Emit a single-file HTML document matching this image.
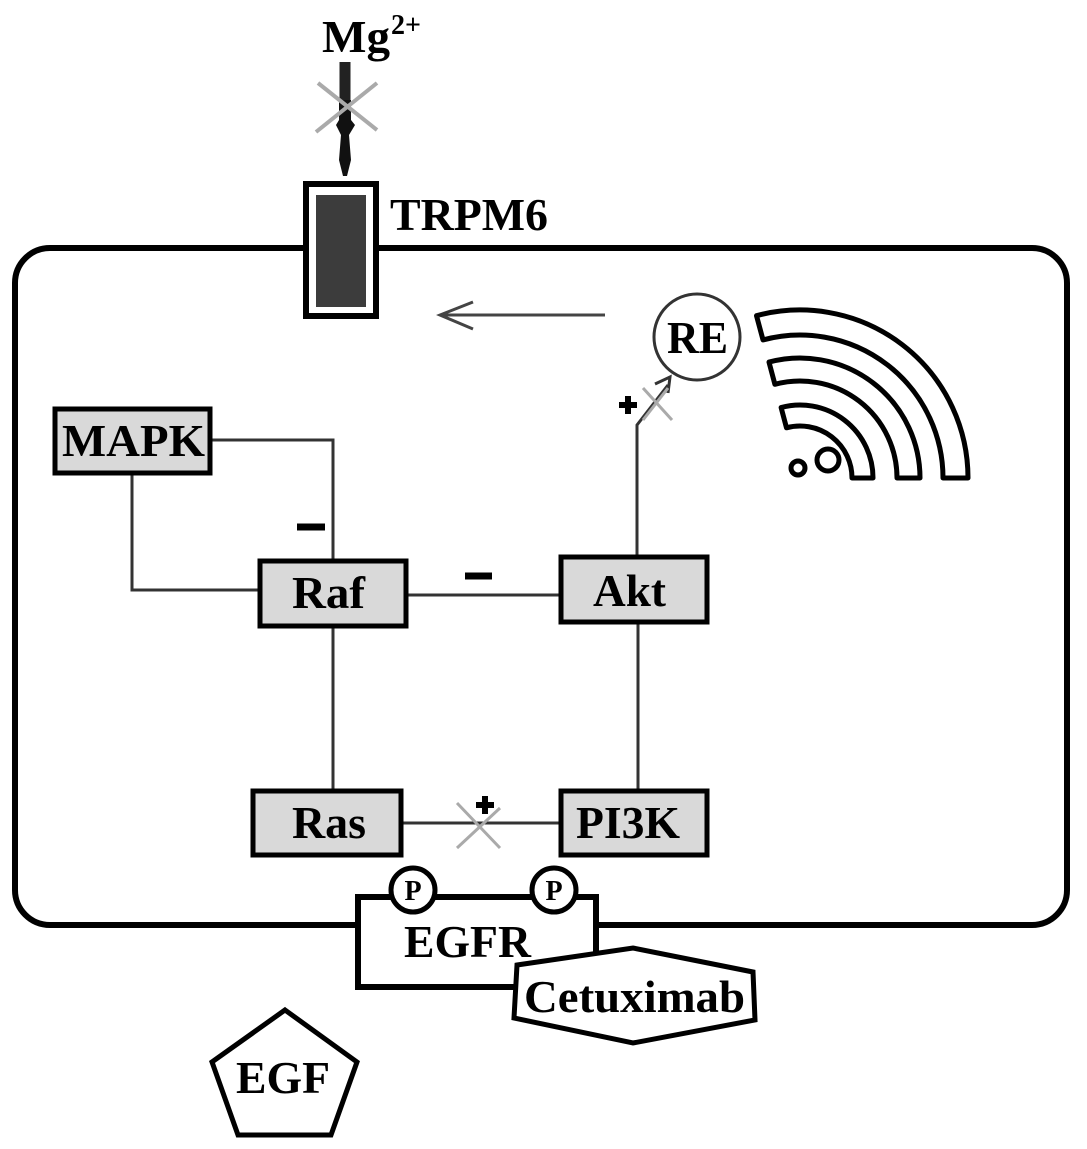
<!DOCTYPE html>
<html><head><style>
html,body{margin:0;padding:0;background:#fff;}
svg{display:block;}
text{font-family:"Liberation Serif",serif;font-weight:bold;fill:#000;}
</style></head><body>
<svg width="1087" height="1149" viewBox="0 0 1087 1149" xmlns="http://www.w3.org/2000/svg">
<!-- cell -->
<rect x="15" y="248" width="1052" height="677" rx="35" fill="none" stroke="#000" stroke-width="6"/>
<!-- Mg -->
<text x="322" y="52" font-size="46" textLength="68" lengthAdjust="spacingAndGlyphs">Mg</text>
<text x="391" y="34" font-size="28">2+</text>
<line x1="345" y1="62" x2="345" y2="100" stroke="#222" stroke-width="11"/>
<path d="M339 100 L351 100 L351 120 L355 125 L349 135 L351 160 L347 176 L343 176 L339 160 L341 135 L336 125 L339 120 Z" fill="#111"/>
<line x1="318" y1="83" x2="377" y2="130" stroke="#aaa" stroke-width="4"/>
<line x1="377" y1="83" x2="316" y2="132" stroke="#aaa" stroke-width="4"/>
<!-- TRPM6 -->
<rect x="306" y="184" width="70" height="132" fill="#fff" stroke="#000" stroke-width="6"/>
<rect x="316" y="195" width="50" height="112" fill="#3c3c3c"/>
<text x="390" y="230" font-size="46" textLength="158" lengthAdjust="spacingAndGlyphs">TRPM6</text>
<!-- arrow -->
<line x1="605" y1="315" x2="440" y2="315" stroke="#444" stroke-width="3"/>
<polyline points="473,302 440,315 473,329" fill="none" stroke="#444" stroke-width="3"/>
<!-- RE -->
<circle cx="697" cy="337" r="43" fill="#fff" stroke="#333" stroke-width="3"/>
<text x="667" y="353" font-size="46" textLength="61" lengthAdjust="spacingAndGlyphs">RE</text>
<!-- wifi -->
<g fill="#fff" stroke="#000" stroke-width="5" stroke-linejoin="round">
<path d="M756.5,315.7 A168 168 0 0 1 968,478 L943,478 A143 143 0 0 0 763,339.9 Z"/>
<path d="M769,362.1 A120 120 0 0 1 920,478 L897,478 A97 97 0 0 0 774.9,384.3 Z"/>
<path d="M781.1,407.5 A73 73 0 0 1 873,478 L852,478 A52 52 0 0 0 786.5,427.8 Z"/>
<circle cx="798" cy="468" r="7"/>
<circle cx="828" cy="460" r="11"/>
</g>
<!-- connectors -->
<g stroke="#333" stroke-width="3" fill="none">
<polyline points="211,440 333,440 333,560"/>
<polyline points="132,474 132,590 258,590"/>
<line x1="407" y1="595" x2="559" y2="595"/>
<line x1="333" y1="628" x2="333" y2="790"/>
<line x1="638" y1="623" x2="638" y2="790"/>
<line x1="402" y1="823" x2="559" y2="823"/>
<polyline points="637,556 637,425 668,385"/>
<polyline points="655,384 670,377 668,393" stroke-width="3"/>
</g>
<line x1="297" y1="527" x2="325" y2="527" stroke="#000" stroke-width="7"/>
<line x1="465" y1="576" x2="492" y2="576" stroke="#000" stroke-width="7"/>
<!-- X marks -->
<g stroke="#aaa" stroke-width="3">
<line x1="457" y1="803" x2="500" y2="848"/>
<line x1="500" y1="808" x2="457" y2="848"/>
<line x1="643" y1="388" x2="672" y2="420"/>
<line x1="668" y1="388" x2="643" y2="420"/>
</g>
<g stroke="#000" stroke-width="6">
<line x1="476" y1="805" x2="494" y2="805"/><line x1="485" y1="796" x2="485" y2="814"/>
<line x1="619" y1="405" x2="637" y2="405"/><line x1="628" y1="396" x2="628" y2="414"/>
</g>
<!-- boxes -->
<g fill="#d9d9d9" stroke="#000" stroke-width="5">
<rect x="55" y="409" width="155" height="64"/>
<rect x="260" y="561" width="146" height="65"/>
<rect x="561" y="557" width="146" height="65"/>
<rect x="253" y="791" width="148" height="64"/>
<rect x="561" y="791" width="146" height="64"/>
</g>
<text x="62" y="456" font-size="46" textLength="143" lengthAdjust="spacingAndGlyphs">MAPK</text>
<text x="292" y="608" font-size="46" textLength="73" lengthAdjust="spacingAndGlyphs">Raf</text>
<text x="593" y="606" font-size="46" textLength="73" lengthAdjust="spacingAndGlyphs">Akt</text>
<text x="292" y="838" font-size="46" textLength="74" lengthAdjust="spacingAndGlyphs">Ras</text>
<text x="576" y="838" font-size="46" textLength="104" lengthAdjust="spacingAndGlyphs">PI3K</text>
<!-- EGFR -->
<rect x="358" y="897" width="238" height="90" fill="#fff" stroke="#000" stroke-width="6"/>
<circle cx="413" cy="890" r="22" fill="#fff" stroke="#000" stroke-width="5"/>
<circle cx="554" cy="890" r="22" fill="#fff" stroke="#000" stroke-width="5"/>
<text x="413" y="900" font-size="28" text-anchor="middle">P</text>
<text x="554" y="900" font-size="28" text-anchor="middle">P</text>
<text x="404" y="957" font-size="46" textLength="127" lengthAdjust="spacingAndGlyphs">EGFR</text>
<polygon points="517,965 633,948 753,972 755,1020 633,1043 514,1018" fill="#fff" stroke="#000" stroke-width="5"/>
<text x="524" y="1012" font-size="46" textLength="221" lengthAdjust="spacingAndGlyphs">Cetuximab</text>
<!-- EGF -->
<polygon points="285,1010 357,1062 331,1135 238,1135 212,1062" fill="#fff" stroke="#000" stroke-width="5"/>
<text x="236" y="1093" font-size="46" textLength="94" lengthAdjust="spacingAndGlyphs">EGF</text>
</svg>
</body></html>
